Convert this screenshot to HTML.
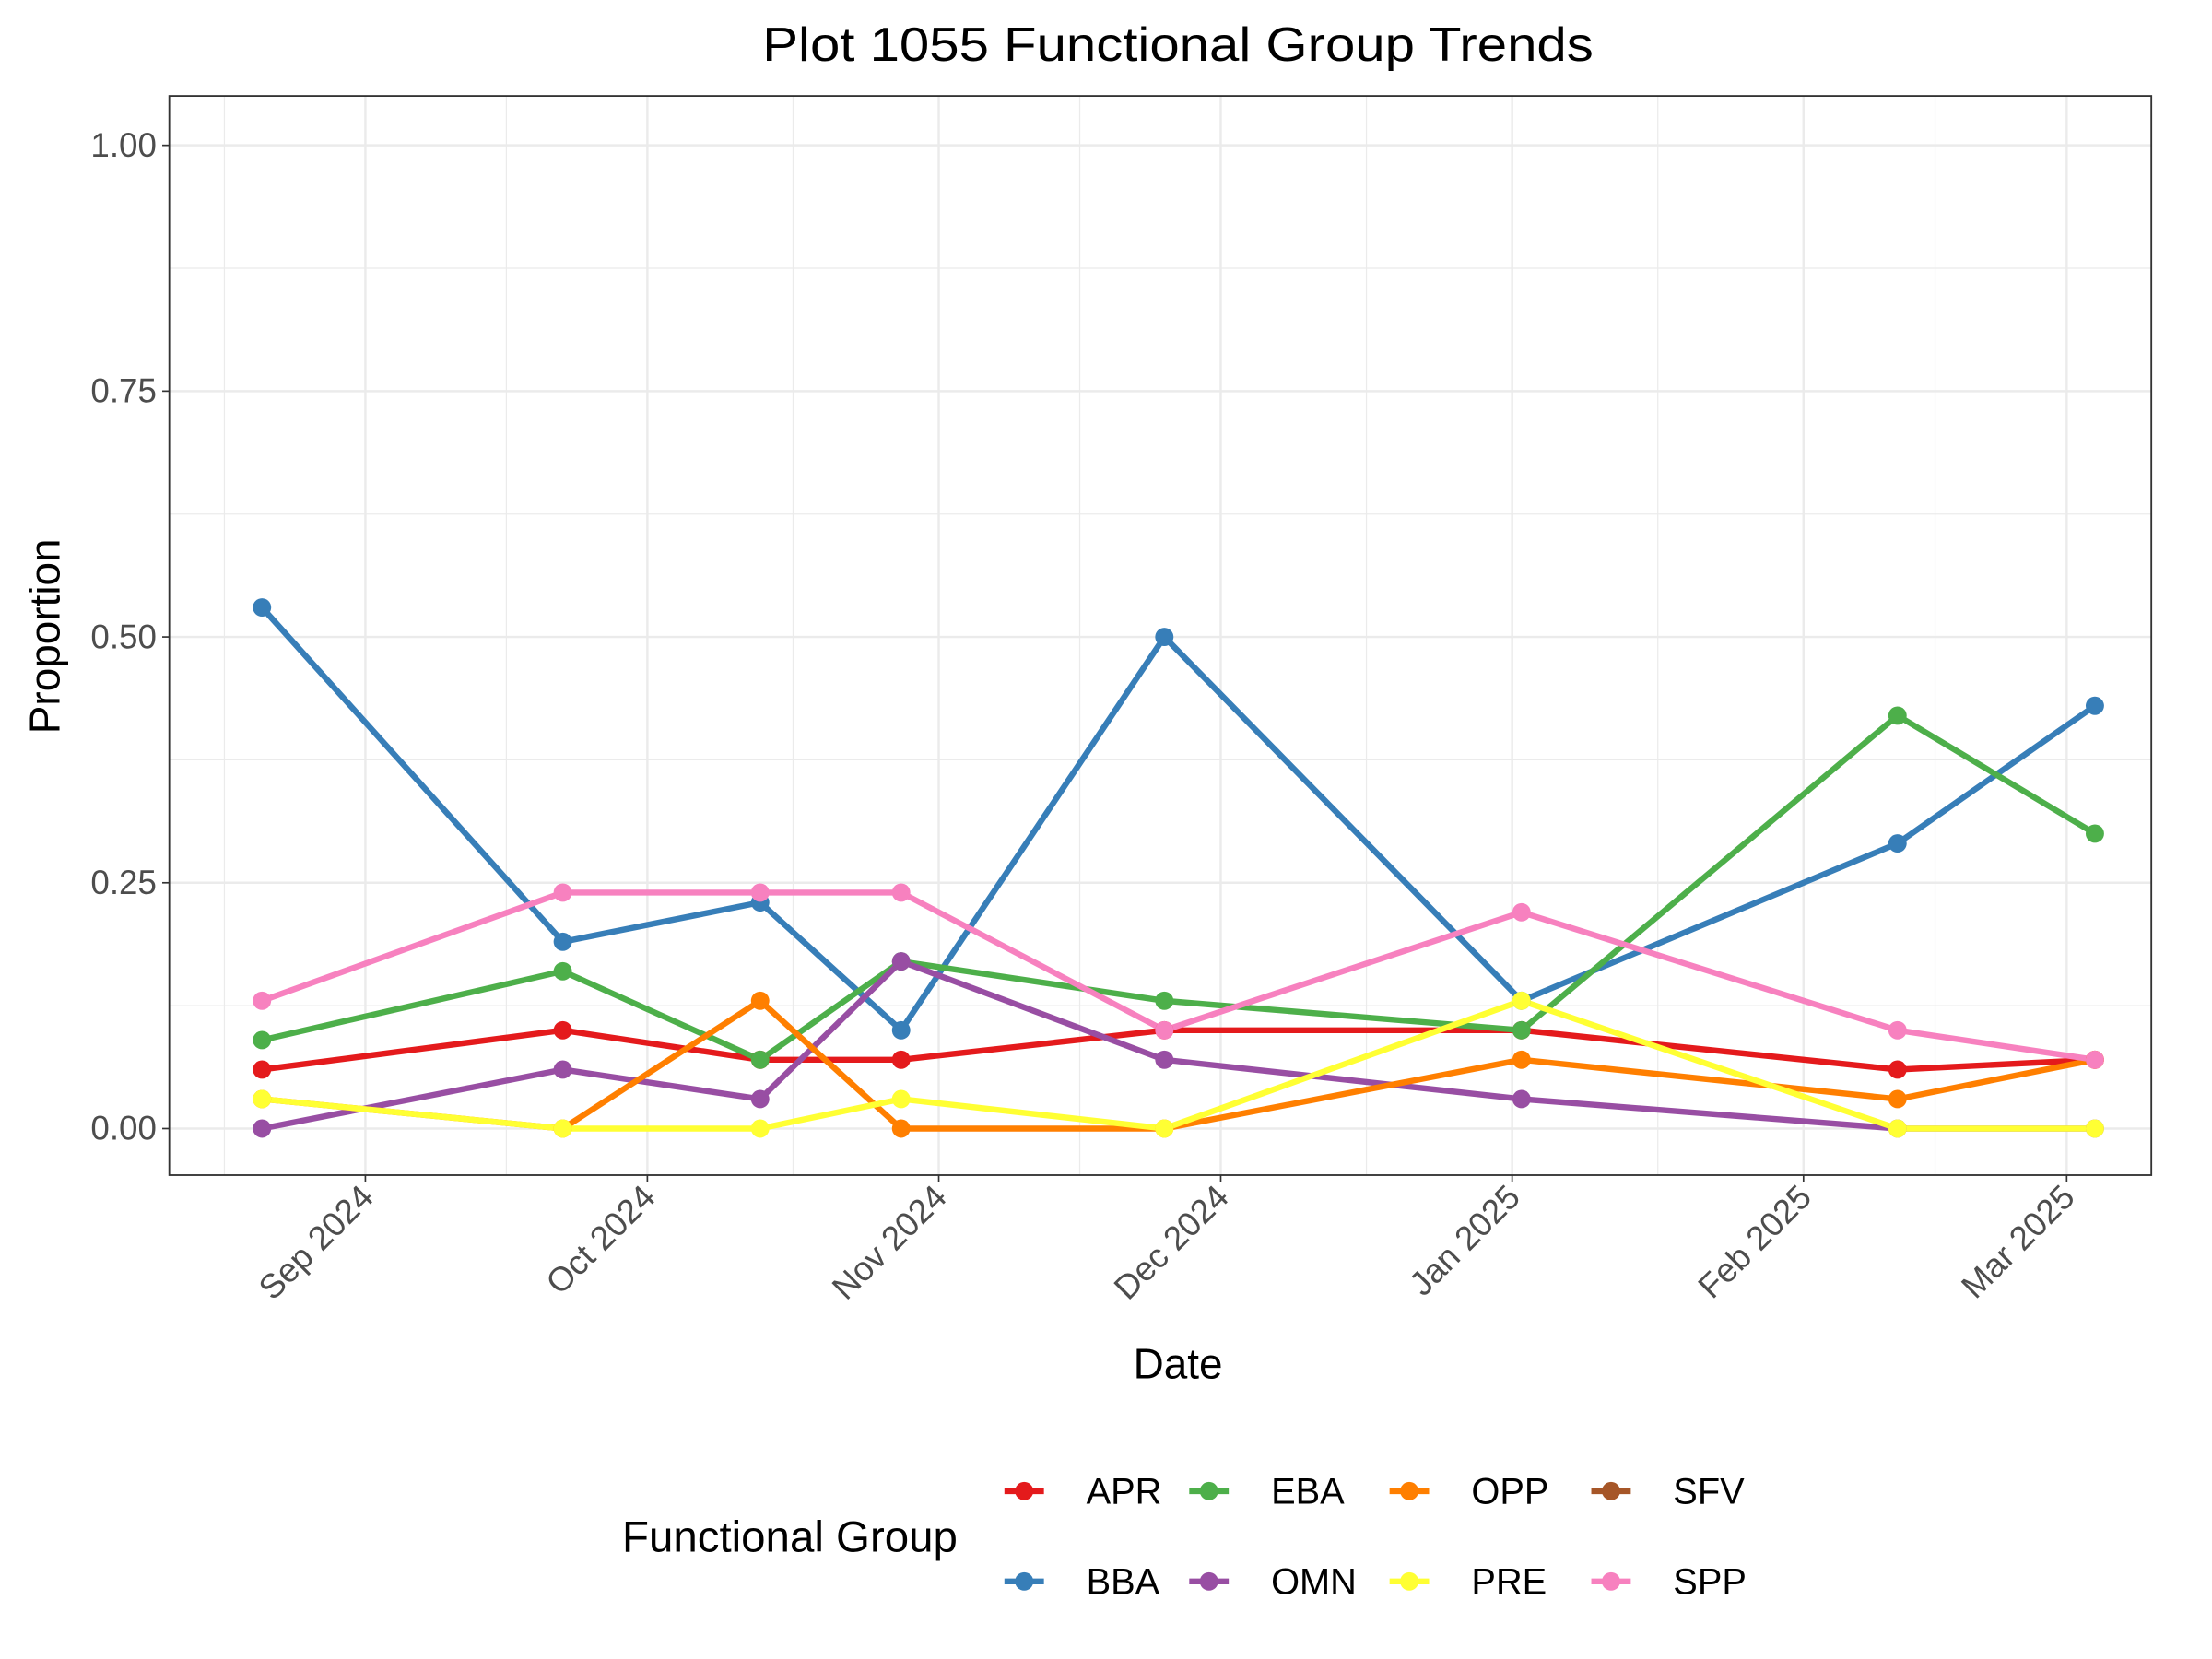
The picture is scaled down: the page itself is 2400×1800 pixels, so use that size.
<!DOCTYPE html>
<html><head><meta charset="utf-8"><style>
html,body{margin:0;padding:0;background:#fff;}
svg{display:block;font-family:"Liberation Sans",Arial,sans-serif;}
</style></head><body>
<svg id="chart" width="2400" height="1800" viewBox="0 0 1568 1176" xmlns="http://www.w3.org/2000/svg">
<rect width="1568" height="1176" fill="#fff"/>
<text x="835" y="43" text-anchor="middle" font-size="34" fill="#000" textLength="589" lengthAdjust="spacingAndGlyphs">Plot 1055 Functional Group Trends</text>
<g id="grid"></g>
<g id="series"></g>
<rect x="120" y="68" width="1405" height="765" fill="none" stroke="#333" stroke-width="1.2"/>
<g id="axes"></g>
<text x="835" y="977" text-anchor="middle" font-size="30" fill="#000">Date</text>
<text transform="translate(42,451) rotate(-90)" text-anchor="middle" font-size="30" fill="#000">Proportion</text>
<g id="legend"></g>
</svg>
<script>
const dates = ["2024-08-21","2024-09-22","2024-10-13","2024-10-28","2024-11-25","2025-01-02","2025-02-11","2025-03-04"];
const groups = ["APR","BBA","EBA","OMN","OPP","PRE","SFV","SPP"];
const colors = ["#E41A1C","#377EB8","#4DAF4A","#984EA3","#FF7F00","#FFFF33","#A65628","#F781BF"];
const APR = [0.06,0.10,0.07,0.07,0.10,0.10,0.06,0.07];
const BBA = [0.53,0.19,0.23,0.10,0.50,0.13,0.29,0.43];
const EBA = [0.09,0.16,0.07,0.17,0.13,0.10,0.42,0.30];
const OMN = [0.00,0.06,0.03,0.17,0.07,0.03,0.00,0.00];
const OPP = [0.03,0.00,0.13,0.00,0.00,0.07,0.03,0.07];
const PRE = [0.03,0.00,0.00,0.03,0.00,0.13,0.00,0.00];
const SFV = [];
const SPP = [0.13,0.24,0.24,0.24,0.10,0.22,0.10,0.07];
const seriesVals = [APR,BBA,EBA,OMN,OPP,PRE,SFV,SPP];
const yTicks = [0,0.25,0.5,0.75,1.0];
const yTickLabels = ["0.00","0.25","0.50","0.75","1.00"];
const xTicks = ["2024-09-01","2024-10-01","2024-11-01","2024-12-01","2025-01-01","2025-02-01","2025-03-01"];
const xTickLabels = ["Sep 2024","Oct 2024","Nov 2024","Dec 2024","Jan 2025","Feb 2025","Mar 2025"];

const NS="http://www.w3.org/2000/svg";
const t0=Date.UTC(2024,8,1), DAY=86400000;
function xs(d){const [y,m,dd]=d.split("-").map(Number);return 259+(Date.UTC(y,m-1,dd)-t0)/DAY*(1465-259)/181;}
function ys(v){return 800-v*697;}
function mk(tag,attrs,parent){const e=document.createElementNS(NS,tag);for(const k in attrs)e.setAttribute(k,attrs[k]);parent.appendChild(e);return e;}
const grid=document.getElementById("grid"),axes=document.getElementById("axes"),ser=document.getElementById("series"),leg=document.getElementById("legend");
for(let i=0;i<yTicks.length-1;i++){const y=ys((yTicks[i]+yTicks[i+1])/2);
 const l=mk("line",{x1:120,x2:1525,y1:y,y2:y,stroke:"#ebebeb","stroke-width":0.8},grid);
 
 }
const xm=xTicks.map(xs);
const minors=[xm[0]-(xm[1]-xm[0])/2];
for(let i=0;i<xm.length-1;i++)minors.push((xm[i]+xm[i+1])/2);
minors.push(xm[xm.length-1]+(xm[xm.length-1]-xm[xm.length-2])/2);
minors.forEach(x=>{if(x>120&&x<1525){const l=mk("line",{x1:x,x2:x,y1:68,y2:833,stroke:"#ebebeb","stroke-width":0.8},grid);
 
 }});
yTicks.forEach((v,i)=>{const y=ys(v);
 const l=mk("line",{x1:120,x2:1525,y1:y,y2:y,stroke:"#ebebeb","stroke-width":1.6},grid);
 
 
 const tk=mk("line",{x1:115,x2:120,y1:y,y2:y,stroke:"#333","stroke-width":1.1},axes);
 
 
 const t=mk("text",{x:111,y:y+8,"text-anchor":"end","font-size":24,fill:"#4d4d4d"},axes);
 t.textContent=yTickLabels[i];
 
 });
xTicks.forEach((d,i)=>{const x=xs(d);
 const l=mk("line",{x1:x,x2:x,y1:68,y2:833,stroke:"#ebebeb","stroke-width":1.6},grid);
 
 
 const tk=mk("line",{x1:x,x2:x,y1:833,y2:838,stroke:"#333","stroke-width":1.1},axes);
 
 
 const t=mk("text",{transform:`translate(${x+7},${850}) rotate(-45)`,"text-anchor":"end","font-size":24,fill:"#4d4d4d"},axes);
 t.textContent=xTickLabels[i];
 
 });
seriesVals.forEach((vals,si)=>{if(!vals.length)return;
 const p=mk("polyline",{points:vals.map((v,i)=>xs(dates[i])+","+ys(v)).join(" "),fill:"none",stroke:colors[si],"stroke-width":4.2,"stroke-linejoin":"round"},ser);
 
 });
seriesVals.forEach((vals,si)=>{vals.forEach((v,i)=>{
 const c=mk("circle",{cx:xs(dates[i]),cy:ys(v),r:6.5,fill:colors[si]},ser);
 
 });});
const lt=mk("text",{x:441,y:1100,"font-size":31,fill:"#000"},leg);
lt.textContent="Functional Group";


const colX=[712,843,985,1128],rowY=[1057,1121];
groups.forEach((g,i)=>{const cx=colX[Math.floor(i/2)],cy=rowY[i%2];
 const e=mk("g",{},leg);
 
 
 mk("line",{x1:cx,x2:cx+28,y1:cy,y2:cy,stroke:colors[i],"stroke-width":4.2},e);
 mk("circle",{cx:cx+14,cy:cy,r:6.5,fill:colors[i]},e);
 const t=mk("text",{x:cx+58,y:cy+9,"font-size":26,fill:"#000"},e);
 t.textContent=g;});
</script>
</body></html>
